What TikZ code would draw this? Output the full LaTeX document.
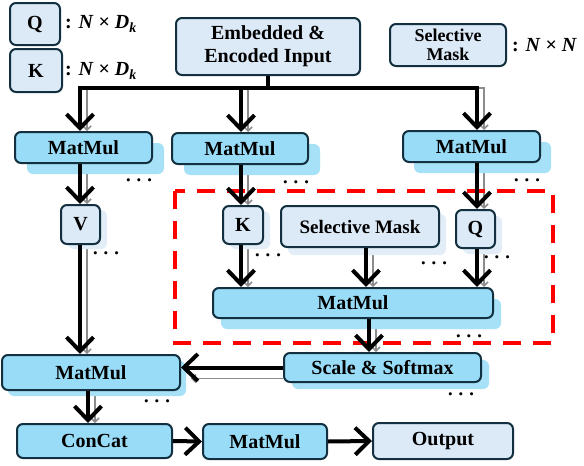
\documentclass[tikz,border=0pt]{standalone}
\usepackage{fontspec}
\setmainfont{Liberation Serif}
\usetikzlibrary{arrows.meta,shadows,backgrounds,calc}

\definecolor{mmfill}{HTML}{99DCF7}
\definecolor{mmshade}{HTML}{A6E1F8}
\definecolor{litefill}{HTML}{DCE9F6}
\definecolor{liteshade}{HTML}{E2EDF8}
\definecolor{boxline}{HTML}{12303F}

\tikzset{
	box/.style={draw=boxline, line width=2pt, rounded corners=6pt, inner sep=0pt,
		align=center, font=\fontsize{20}{23}\selectfont\bfseries},
	mmbox/.style={box, fill=mmfill},
	litebox/.style={box, fill=litefill},
	mmshadow/.style 2 args={general shadow={draw=none, fill=mmshade, shadow xshift=#1pt, shadow yshift=-#2pt}},
	liteshadow/.style 2 args={general shadow={draw=none, fill=liteshade, shadow xshift=#1pt, shadow yshift=-#2pt}},
	dimlabel/.style={anchor=west, inner sep=0pt, font=\fontsize{20}{23}\selectfont\bfseries},
	dotlabel/.style={inner sep=0pt, font=\fontsize{20}{20}\selectfont\boldmath},
	arr/.style={line width=4pt, -{Straight Barb[length=14pt,width=27pt]}},
	garr/.style={draw=black!45, line width=1.5pt, -{Straight Barb[length=4pt,width=8pt]}},
	gdown/.style={garr, transform canvas={xshift=7pt}},
	bus/.style={line width=4pt}
}

\begin{document}
\begin{tikzpicture}[x=1pt, y=-1pt]
		%%%%% START %%%%%
		\useasboundingbox (0,0) rectangle (584,466);
		
		% legend
		\node[litebox, minimum width=50pt, minimum height=42pt] (legQ) at (35,24) {Q};
		\node[litebox, minimum width=52pt, minimum height=43pt] (legK) at (36,70.5) {K};
		\node[dimlabel] (legQdim) at (65,24) {: \textit{N} × \textit{D}\textsubscript{\textit{k}}};
		\node[dimlabel] (legKdim) at (65,71) {: \textit{N} × \textit{D}\textsubscript{\textit{k}}};
		\node[litebox, minimum width=116pt, minimum height=42pt, font=\fontsize{18}{19}\selectfont\bfseries] (legM) at (448,45) {Selective\\Mask};
		\node[dimlabel] (legMdim) at (512,45) {: \textit{N} × \textit{N}};
		
		\node[litebox, minimum width=184pt, minimum height=57pt] (embed) at (268,46.5) {Embedded \&\\Encoded Input};
		
		% red frame
		\draw[red, line width=3.5pt, dash pattern=on 18pt off 12pt] (175,191) rectangle (553,343);
		
		% projections
		\node[mmbox, mmshadow={12}{11}, minimum width=137pt, minimum height=31pt] (mmL) at (83.5,147.5) {MatMul};
		\node[mmbox, mmshadow={12}{11}, minimum width=136pt, minimum height=31pt] (mmM) at (240,148.5) {MatMul};
		\node[mmbox, mmshadow={11}{11}, minimum width=137pt, minimum height=31pt] (mmR) at (471.5,146.5) {MatMul};
		
		\node[litebox, liteshadow={7}{5}, minimum width=39pt, minimum height=39pt] (nV) at (80.5,224.5) {V};
		\node[litebox, liteshadow={7}{5}, minimum width=40pt, minimum height=38pt] (nK) at (243,225) {K};
		\node[litebox, liteshadow={7}{8}, minimum width=158pt, minimum height=41pt, font=\fontsize{19}{22}\selectfont\bfseries] (nS) at (360,226.5) {Selective Mask};
		\node[litebox, liteshadow={7}{6}, minimum width=39pt, minimum height=38pt] (nQ) at (475.5,229) {Q};
		
		\node[mmbox, mmshadow={8}{11}, minimum width=280pt, minimum height=30pt] (mmIn) at (353,303) {MatMul};
		\node[mmbox, mmshadow={8}{7}, minimum width=197pt, minimum height=29pt] (nSc) at (382.5,367.5) {Scale \& Softmax};
		\node[mmbox, mmshadow={6}{6}, minimum width=178pt, minimum height=35pt] (mmB) at (91,372.5) {MatMul};
		
		\node[mmbox, minimum width=155pt, minimum height=34pt] (nCat) at (94.5,441) {ConCat};
		\node[mmbox, minimum width=124pt, minimum height=35pt] (mmF) at (265,441.5) {MatMul};
		\node[litebox, minimum width=140pt, minimum height=36pt] (nOut) at (443,441) {Output};
		
		% dots
		\node[dotlabel] (dotL) at (139,181) {$\cdots$};
		\node[dotlabel] (dotM) at (296,183) {$\cdots$};
		\node[dotlabel] (dotR) at (527,181) {$\cdots$};
		\node[dotlabel] (dotV) at (106,254) {$\cdots$};
		\node[dotlabel] (dotK) at (268,256) {$\cdots$};
		\node[dotlabel] (dotS) at (434,264) {$\cdots$};
		\node[dotlabel] (dotQ) at (497,258) {$\cdots$};
		\node[dotlabel] (dotIn) at (469,337) {$\cdots$};
		\node[dotlabel] (dotSc) at (461,395) {$\cdots$};
		\node[dotlabel] (dotB) at (157,402) {$\cdots$};
		
		% columns
		\coordinate (busL) at (80,88);
		\coordinate (busM) at (241,88);
		\coordinate (busR) at (477,88);
		\coordinate (stem) at (268,88);
		\coordinate (colS) at (366,0);
		\coordinate (colSc) at (369,0);
		\coordinate (colCat) at (88,0);
		
		% gray copies
		\begin{scope}[on background layer]
			\draw[gdown] (busM) -- (busL) -- (busL |- mmL.north);
			\draw[gdown] (busM) -- (busR) -- (busR |- mmR.north);
			\draw[gdown] (busM) -- (busM |- mmM.north);
			\draw[gdown] (busL |- mmL.south) -- (busL |- nV.north);
			\draw[gdown] (busL |- nV.south) -- (busL |- mmB.north);
			\draw[gdown] (busM |- mmM.south) -- (busM |- nK.north);
			\draw[gdown] (busM |- nK.south) -- (busM |- mmIn.north);
			\draw[gdown] (colS |- nS.south) -- (colS |- mmIn.north);
			\draw[gdown] (busR |- mmR.south) -- (busR |- nQ.north);
			\draw[gdown] (busR |- nQ.south) -- (busR |- mmIn.north);
			\draw[gdown] (colSc |- mmIn.south) -- (colSc |- nSc.north);
			\draw[gdown] (colCat |- mmB.south) -- (colCat |- nCat.north);
			\draw[garr, transform canvas={yshift=-11pt}] (nSc.west) -- ($(mmB.east |- nSc.west)+(10,0)$);
		\end{scope}
		
		% black arrows
		\draw[bus] (embed.south) -- (stem);
		\draw[arr] (busM) -- (busL) -- (busL |- mmL.north);
		\draw[arr] (busM) -- (busR) -- (busR |- mmR.north);
		\draw[arr] (busM) -- (busM |- mmM.north);
		\draw[arr] (busL |- mmL.south) -- (busL |- nV.north);
		\draw[arr] (busL |- nV.south) -- (busL |- mmB.north);
		\draw[arr] (busM |- mmM.south) -- (busM |- nK.north);
		\draw[arr] (busM |- nK.south) -- (busM |- mmIn.north);
		\draw[arr] (colS |- nS.south) -- (colS |- mmIn.north);
		\draw[arr] (busR |- mmR.south) -- (busR |- nQ.north);
		\draw[arr] (busR |- nQ.south) -- (busR |- mmIn.north);
		\draw[arr] (colSc |- mmIn.south) -- (colSc |- nSc.north);
		\draw[arr] (nSc.west) -- (mmB.east |- nSc.west);
		\draw[arr] (colCat |- mmB.south) -- (colCat |- nCat.north);
		\draw[arr] (nCat.east) -- (mmF.west);
		\draw[arr] (mmF.east) -- (nOut.west);
		
		%%%%% END %%%%%
	\end{tikzpicture}
\end{document}
